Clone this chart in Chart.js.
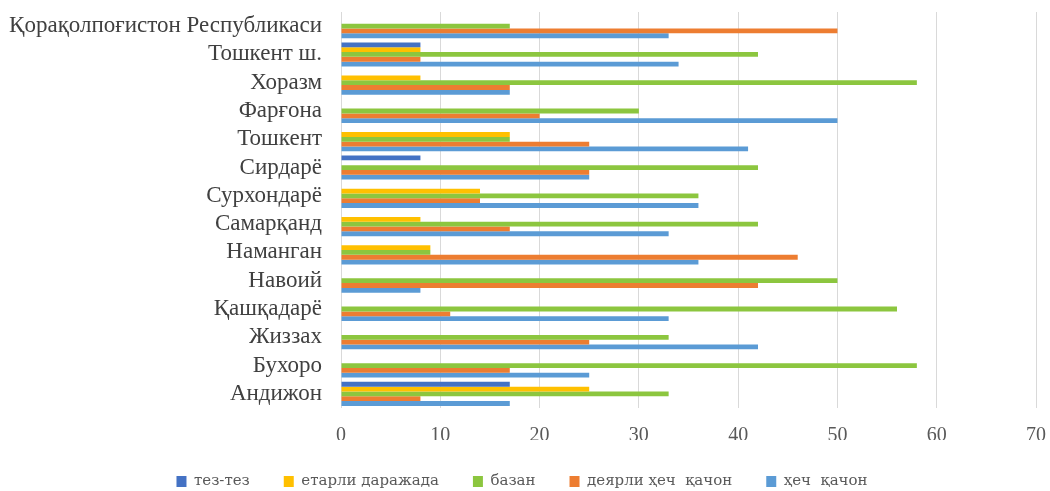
<!DOCTYPE html>
<html>
<head>
<meta charset="utf-8">
<script src="https://cdn.jsdelivr.net/npm/chart.js@4/dist/chart.umd.min.js"></script>
<style>
  html, body { margin: 0; padding: 0; background: #fff; }
  #wrap { width: 1050px; height: 491px; }
</style>
</head>
<body>
<div id="wrap"><canvas id="barChart" width="1050" height="491"></canvas></div>
<script>
const regions = ['Қорақолпоғистон Республикаси', 'Тошкент ш.', 'Хоразм', 'Фарғона', 'Тошкент', 'Сирдарё',
  'Сурхондарё', 'Самарқанд', 'Наманган', 'Навоий', 'Қашқадарё', 'Жиззах', 'Бухоро', 'Андижон'];
const often = [0, 8, 0, 0, 0, 8, 0, 0, 0, 0, 0, 0, 0, 17];
const enough = [0, 8, 8, 0, 17, 0, 14, 8, 9, 0, 0, 0, 0, 25];
const sometimes = [17, 42, 58, 30, 17, 42, 36, 42, 9, 50, 56, 33, 58, 33];
const almostNever = [50, 8, 17, 20, 25, 25, 14, 17, 46, 42, 11, 25, 17, 8];
const never = [33, 34, 17, 50, 41, 25, 36, 33, 36, 8, 33, 42, 25, 17];
const xTicks = [0, 10, 20, 30, 40, 50, 60, 70];

const serif = 'Liberation Serif';
const ctx = document.getElementById('barChart').getContext('2d');

function series(label, data, color) {
  return {
    label: label,
    data: data,
    backgroundColor: color,
    borderWidth: 0,
    barPercentage: 1.0,
    categoryPercentage: 0.85,
  };
}

new Chart(ctx, {
  type: 'bar',
  data: {
    labels: regions,
    datasets: [
      series('тез-тез', often, '#4472C4'),
      series('етарли даражада', enough, '#FFC000'),
      series('базан', sometimes, '#8CC63F'),
      series('деярли ҳеч  қачон', almostNever, '#ED7D31'),
      series('ҳеч  қачон', never, '#5B9BD5'),
    ]
  },
  options: {
    indexAxis: 'y',
    responsive: false,
    animation: false,
    layout: { padding: { left: 8, right: 14, top: 12, bottom: 0 } },
    plugins: {
      legend: {
        position: 'bottom',
        maxHeight: 51,
        labels: {
          color: '#595959',
          font: { size: 15, family: 'DejaVu Serif' },
          boxWidth: 10,
          boxHeight: 11,
          padding: 34,
        }
      },
      tooltip: { enabled: false }
    },
    scales: {
      x: {
        min: 0,
        max: 70,
        afterBuildTicks: (scale) => { scale.ticks = xTicks.map(v => ({ value: v })); },
        afterFit: (scale) => { scale.height = 32; scale.paddingLeft = 0; scale.paddingRight = 0; },
        grid: { color: '#d9d9d9', lineWidth: 1, drawTicks: false },
        border: { display: false },
        ticks: { color: '#595959', font: { size: 20, family: serif }, padding: 16 }
      },
      y: {
        grid: { display: false, drawTicks: false },
        border: { display: false },
        afterFit: (scale) => { scale.width = 333; scale.paddingTop = 0; scale.paddingBottom = 0; },
        ticks: { color: '#404040', font: { size: 23, family: serif }, padding: 19, autoSkip: false }
      }
    }
  }
});
</script>
</body>
</html>
